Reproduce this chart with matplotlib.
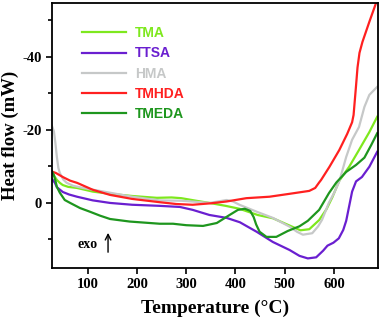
import matplotlib
matplotlib.use("Agg")
import matplotlib.pyplot as plt
from matplotlib.ticker import MultipleLocator

plt.rcParams['axes.unicode_minus'] = False

# TMA (lime)
tma_t = [27, 32, 37, 43, 49, 60, 78, 110, 145, 190, 240, 270, 290, 320, 347, 380, 408,
         445, 476, 510, 532, 550, 570, 585, 597, 611, 631, 651, 672, 688]
tma_v = [-8.3, -7.2, -6.2, -5.4, -4.8, -4.3, -4.0, -3.0, -2.4, -1.8, -1.3, -1.4, -1.2, -0.5, 0.1,
         0.9, 1.7, 3.4, 4.3, 6.3, 7.6, 7.3, 4.8, 1.8, -1.5, -6.0, -9.8, -14.4, -19.3, -23.5]

# TTSA (purple)
ttsa_t = [28, 33, 37, 49, 62, 78, 110, 145, 190, 246, 287, 313, 347, 382, 409, 422, 443, 476,
          510, 530, 547, 564, 578, 587, 599, 610, 619, 625, 631, 637, 645, 657, 672, 688]
ttsa_v = [-6.3, -5.4, -4.2, -2.9, -2.2, -1.6, -0.6, 0.1, 0.6, 0.9, 1.2, 2.0, 3.4, 4.2, 5.4, 6.4,
          8.0, 10.8, 13.0, 14.6, 15.3, 15.0, 13.2, 11.8, 11.0, 9.8, 7.5, 5.0, 1.0, -3.0, -5.8,
          -7.0, -9.8, -13.9]

# HMA (grey)
hma_t = [27, 31, 34, 37, 40, 43, 50, 57, 70, 90, 145, 190, 246, 290, 320, 347, 365, 382, 395,
         408, 443, 476, 510, 525, 537, 556, 568, 576, 590, 600, 611, 625, 637, 651, 662, 672, 688]
hma_v = [-21.0, -19.5, -16.3, -12.5, -9.5, -8.1, -6.3, -5.4, -4.6, -4.0, -2.7, -1.6, -0.6, -0.5,
         -0.2, 0.1, -0.3, -0.7, -0.3, 0.6, 2.5, 4.2, 6.6, 8.0, 8.8, 8.4, 6.5, 4.7, 0.0, -2.5,
         -5.8, -12.5, -17.2, -20.7, -26.2, -29.5, -31.7]

# TMHDA (red)
tmhda_t = [27, 35, 49, 64, 78, 110, 145, 190, 246, 280, 313, 350, 382, 422, 469, 510, 550, 562,
           570, 574, 591, 611, 627, 637, 640, 645, 648, 652, 658, 672, 686]
tmhda_v = [-8.5, -8.1, -7.0, -6.0, -5.4, -3.5, -2.1, -1.0, -0.1, 0.4, 0.6, 0.2, -0.3, -1.2, -1.6,
           -2.4, -3.2, -4.0, -5.5, -6.2, -9.8, -14.4, -18.8, -22.0, -24.0, -32.0, -37.0, -41.0,
           -44.0, -49.5, -54.8]

# TMEDA (green)
tmeda_t = [27, 31, 34, 37, 43, 53, 64, 84, 104, 125, 145, 185, 246, 273, 300, 334, 362, 388,
           405, 419, 430, 437, 442, 449, 463, 483, 506, 530, 547, 570, 590, 605, 625, 645, 662,
           676, 688]
tmeda_v = [-8.6, -7.5, -6.0, -4.3, -2.7, -0.7, 0.1, 1.5, 2.5, 3.6, 4.5, 5.2, 5.8, 5.8, 6.2, 6.4,
           5.6, 3.4, 2.0, 1.7, 2.3, 4.0, 6.0, 8.0, 9.4, 9.4, 7.8, 6.5, 5.0, 2.0, -2.6, -5.5, -8.4,
           -10.3, -12.3, -15.8, -19.0]

series = [
    ("TMA", tma_t, tma_v, "#7ee81e"),
    ("TTSA", ttsa_t, ttsa_v, "#6a1fd0"),
    ("HMA", hma_t, hma_v, "#c6c8c8"),
    ("TMHDA", tmhda_t, tmhda_v, "#ff2020"),
    ("TMEDA", tmeda_t, tmeda_v, "#1e961e"),
]

fig = plt.figure(figsize=(3.82, 3.22), dpi=100)
ax = fig.add_axes([0.136, 0.168, 0.854, 0.823])

for name, t, v, c in series:
    ax.plot(t, v, color=c, lw=1.6, label=name)

ax.set_xlim(27, 690)
ax.set_ylim(17.9, -54.7)
ax.xaxis.set_major_locator(MultipleLocator(100))
ax.yaxis.set_major_locator(MultipleLocator(20))
ax.yaxis.set_minor_locator(MultipleLocator(10))

for s in ax.spines.values():
    s.set_linewidth(1.3)
ax.tick_params(which='both', direction='out', width=1.2)
ax.tick_params(which='major', length=4)
ax.tick_params(which='minor', length=3)
ax.tick_params(axis='x', which='both', top=False)
ax.tick_params(axis='y', which='both', right=False)

serif = dict(family='Liberation Serif', weight='bold')
for lab in ax.get_xticklabels() + ax.get_yticklabels():
    lab.set_fontfamily('Liberation Serif')
    lab.set_fontweight('bold')
    lab.set_fontsize(10.5)

ax.set_xlabel("Temperature (\u00b0C)", fontsize=14, labelpad=6, **serif)
ax.set_ylabel("Heat flow (mW)", fontsize=13.5, labelpad=2, **serif)

ax.text(100, 11.5, "exo", ha='center', va='center', fontsize=10, **serif)
ax.annotate("", xy=(141, 8.3), xytext=(141, 13.6),
            arrowprops=dict(arrowstyle='->', color='black', lw=1.0, shrinkA=0, shrinkB=0))

leg = ax.legend(loc='upper left', bbox_to_anchor=(0.092, 0.912), frameon=False,
                handlelength=3.2, handletextpad=0.6, labelspacing=0.45, borderpad=0,
                borderaxespad=0, labelcolor='linecolor',
                prop=dict(family='Liberation Sans', weight='bold', size=10))

fig.savefig("out.png", dpi=100)
